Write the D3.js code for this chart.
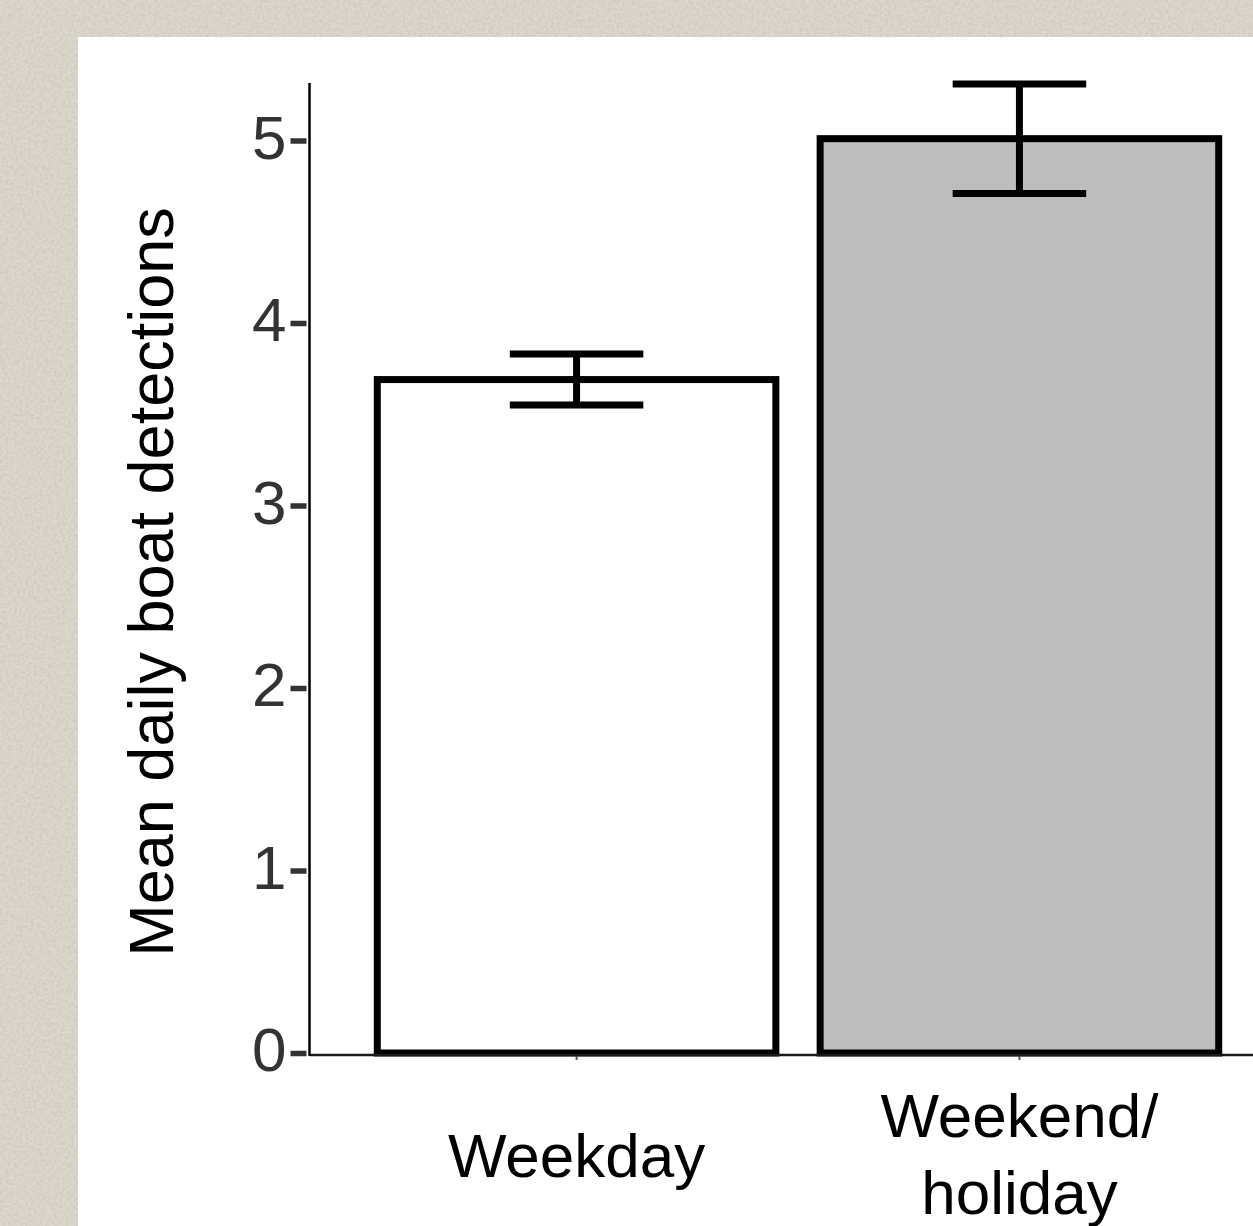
<!DOCTYPE html>
<html>
<head>
<meta charset="utf-8">
<script src="https://cdn.jsdelivr.net/npm/d3@7"></script>
<style>
  html, body { margin: 0; padding: 0; background: #ddd8cc; }
  svg { display: block; }
  text { font-family: "Liberation Sans", Arial, sans-serif; }
</style>
</head>
<body>
<svg id="chart" width="1253" height="1226"></svg>
<script>
// ---- data ----
const categories = ["Weekday", "Weekend/\nholiday"];
const means = [3.69, 5.01];
const errors = [0.14, 0.30];
const fills = ["#ffffff", "#bdbdbd"];
const yTicks = [0, 1, 2, 3, 4, 5];
const yTitle = "Mean daily boat detections";

const svg = d3.select("#chart");
const W = 1253, H = 1226;

// background with subtle texture
const defs = svg.append("defs");
const f = defs.append("filter").attr("id", "paper").attr("x", 0).attr("y", 0).attr("width", "100%").attr("height", "100%");
f.append("feTurbulence").attr("type", "fractalNoise").attr("baseFrequency", 0.35).attr("numOctaves", 2).attr("seed", 3).attr("result", "noise");
f.append("feColorMatrix").attr("in", "noise").attr("type", "matrix")
  .attr("values", "0 0 0 0 0.55  0 0 0 0 0.52  0 0 0 0 0.46  0 0 0 -1.1 0.75").attr("result", "spots");
f.append("feComposite").attr("in", "spots").attr("in2", "SourceGraphic").attr("operator", "over");
svg.append("rect").attr("width", W).attr("height", H).attr("fill", "#ddd8cc").attr("filter", "url(#paper)");

// white panel
svg.append("rect").attr("x", 78).attr("y", 37).attr("width", W - 78).attr("height", H - 37).attr("fill", "#ffffff");

// scales
const y = d3.scaleLinear().domain([0, 5.315]).range([1053, 83]);
const x = d3.scaleBand().domain(categories).range([333, 1263]).paddingInner(0.1).paddingOuter(0.1);

const axisX = 309.5, axisY = 1055;

// bars
svg.append("g").selectAll("rect").data(categories).join("rect")
  .attr("x", d => x(d))
  .attr("y", (d, i) => y(means[i]))
  .attr("width", x.bandwidth())
  .attr("height", (d, i) => y(0) - y(means[i]))
  .attr("fill", (d, i) => fills[i])
  .attr("stroke", "#000")
  .attr("stroke-width", 7);

// error bars
const cap = x.bandwidth() * 0.335;
const eg = svg.append("g").attr("stroke", "#000").attr("stroke-width", 7);
categories.forEach((c, i) => {
  const cx = x(c) + x.bandwidth() / 2;
  const yt = y(means[i] + errors[i]), yb = y(means[i] - errors[i]);
  eg.append("line").attr("x1", cx).attr("x2", cx).attr("y1", yt).attr("y2", yb);
  eg.append("line").attr("x1", cx - cap / 2).attr("x2", cx + cap / 2).attr("y1", yt).attr("y2", yt);
  eg.append("line").attr("x1", cx - cap / 2).attr("x2", cx + cap / 2).attr("y1", yb).attr("y2", yb);
});

// x axis
const gx = svg.append("g").attr("transform", `translate(0,${axisY})`)
  .call(d3.axisBottom(x).tickSizeInner(5).tickSizeOuter(0).tickFormat(""));
gx.select(".domain").remove();
gx.selectAll(".tick line").attr("stroke", "#555").attr("stroke-width", 2);
svg.append("line").attr("x1", axisX).attr("x2", W).attr("y1", axisY).attr("y2", axisY)
  .attr("stroke", "#1a1a1a").attr("stroke-width", 2.5);

// x labels (multi-line)
const lineH = 77, labelCenter = 1175;
categories.forEach(c => {
  const lines = c.split("\n");
  const t = svg.append("text").attr("text-anchor", "middle").attr("font-size", 62).attr("fill", "#000");
  lines.forEach((ln, j) => {
    t.append("tspan").attr("x", x(c) + x.bandwidth() / 2)
      .attr("y", labelCenter + (j - (lines.length - 1) / 2) * lineH + (lines.length === 1 ? 2 : 0))
      .text(ln);
  });
});

// y axis
const gy = svg.append("g").attr("transform", `translate(${axisX},0)`)
  .call(d3.axisLeft(y).tickValues(yTicks).tickFormat(d3.format("d")).tickSizeInner(19).tickSizeOuter(0).tickPadding(4));
gy.select(".domain").remove();
gy.selectAll(".tick line").attr("x1", -3).attr("stroke", "#333").attr("stroke-width", 5.5);
gy.selectAll(".tick text").attr("font-size", 62).attr("fill", "#333")
  .attr("font-family", "'Liberation Sans', Arial, sans-serif").attr("dy", "0.29em");
svg.append("line").attr("x1", axisX).attr("x2", axisX).attr("y1", 83).attr("y2", axisY + 1)
  .attr("stroke", "#000").attr("stroke-width", 2.5);

// y title
svg.append("text").attr("transform", "translate(173,582) rotate(-90)")
  .attr("text-anchor", "middle").attr("font-size", 63).attr("fill", "#000").text(yTitle);
</script>
</body>
</html>
